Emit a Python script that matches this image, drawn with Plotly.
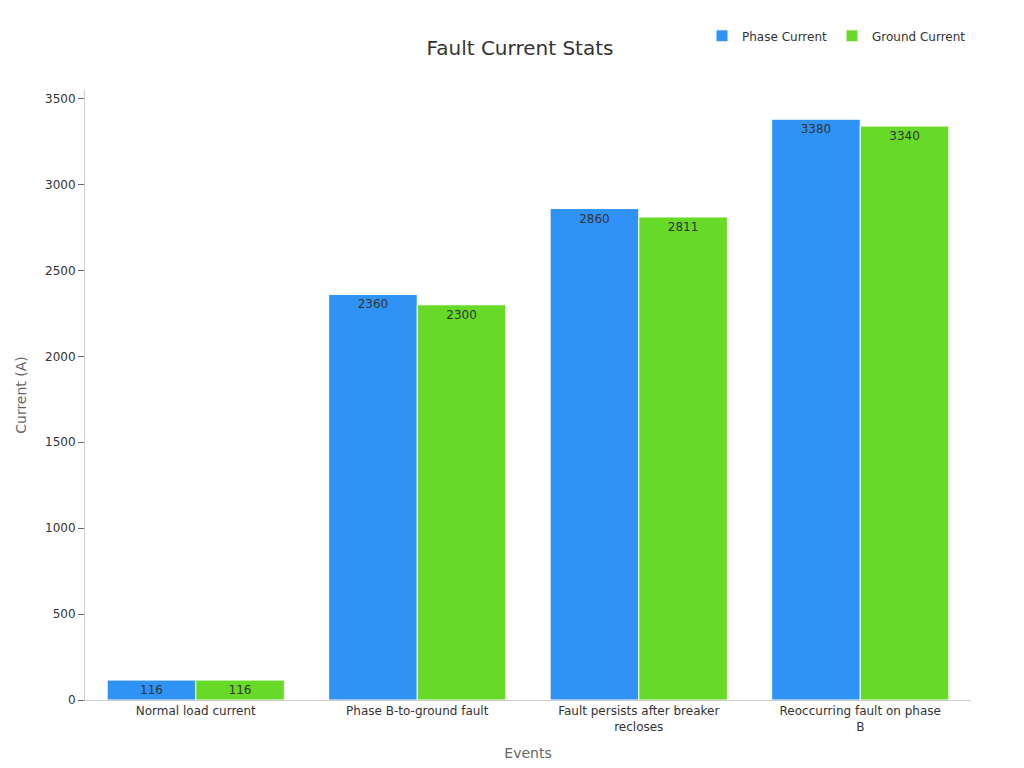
import plotly.graph_objects as go

events = ["Normal load current", "Phase B-to-ground fault",
          "Fault persists after breaker<br>recloses", "Reoccurring fault on phase<br>B"]
phase_current = [116, 2360, 2860, 3380]
ground_current = [116, 2300, 2811, 3340]

fig = go.Figure()
fig.add_trace(go.Bar(x=events, y=phase_current, name="Phase Current",
                     marker=dict(color="#2E93F5", line=dict(color="white", width=1)),
                     text=phase_current, textposition="inside", insidetextanchor="end",
                     textfont=dict(color="#333333", size=12)))
fig.add_trace(go.Bar(x=events, y=ground_current, name="Ground Current",
                     marker=dict(color="#66DA26", line=dict(color="white", width=1)),
                     text=ground_current, textposition="inside", insidetextanchor="end",
                     textfont=dict(color="#333333", size=12)))

fig.update_layout(
    width=1024, height=768,
    font=dict(family="DejaVu Sans", color="#333333", size=12),
    title=dict(text="Fault Current Stats", x=0.5, y=0.957, xanchor="center",
               font=dict(size=20, color="#333333")),
    barmode="group", bargap=0.2, bargroupgap=0,
    plot_bgcolor="white", paper_bgcolor="white",
    margin=dict(l=77, r=61, t=82, b=76),
    legend=dict(orientation="h", x=1, xanchor="right", y=1.065, yanchor="bottom",
                font=dict(size=12)),
    uniformtext=dict(minsize=12, mode="show"),
)
fig.update_xaxes(title=dict(text="Events", font=dict(size=14, color="#666666")),
                 showline=True, linecolor="#cccccc", tickfont=dict(size=12))
fig.update_yaxes(title=dict(text="Current (A)", font=dict(size=14, color="#666666")),
                 range=[0, 3550], dtick=500, showgrid=False, showline=True,
                 linecolor="#cccccc", ticks="outside", tickcolor="#666666", ticklen=6,
                 tickfont=dict(size=12))

fig.write_html("out.html")
